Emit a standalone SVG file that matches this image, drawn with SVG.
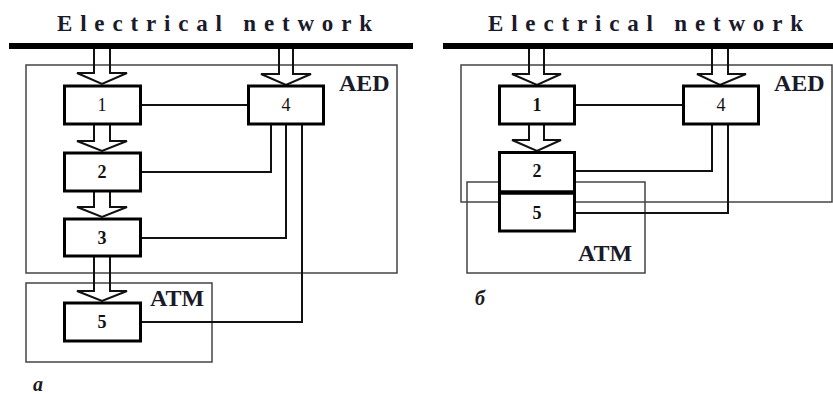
<svg xmlns="http://www.w3.org/2000/svg" width="833" height="394" viewBox="0 0 833 394">
<style>
text{font-family:"Times New Roman","Liberation Serif","DejaVu Serif",serif}
.title{font-weight:bold;font-size:23px;fill:#1a1a2a}
.lab{font-weight:bold;font-size:24px;fill:#1a1a2a}
.num{font-size:18px;fill:#111;text-anchor:middle}
.numb{font-weight:bold}
.cap{font-weight:bold;font-style:italic;font-size:20px;fill:#1a1a1a}
.bus{stroke:#000;stroke-width:6;fill:none}
.frame{fill:none;stroke:#444;stroke-width:1.5}
.box{fill:#fff;stroke:#000;stroke-width:3}
.arrow{fill:none;stroke:#111;stroke-width:2;stroke-linejoin:miter}
.conn{fill:none;stroke:#111;stroke-width:2}
</style>

<!-- Panel a -->
<g id="panel-a">
  <text class="title" font-family="Liberation Serif, serif" x="57" y="31" textLength="315" lengthAdjust="spacing">Electrical network</text>
  <line class="bus" x1="9" y1="46" x2="413" y2="46"/>
  <g id="a-AED"><rect class="frame" x="26" y="65" width="371" height="208"/><text class="lab" x="339" y="91">AED</text></g>
  <g id="a-ATM"><rect class="frame" x="26" y="283" width="186" height="79"/><text class="lab" x="150" y="306">ATM</text></g>
  <g id="a-arrows">
    <polyline class="arrow" points="94,49 94,73 77,73 102,84 127,73 110,73 110,49"/>
    <polyline class="arrow" points="279,49 279,74 261,74 286,85 311,74 293,74 293,49"/>
    <polyline class="arrow" points="94,125 94,141 77,141 102,151 127,141 110,141 110,125"/>
    <polyline class="arrow" points="94,192 94,207 77,207 102,217 127,207 110,207 110,192"/>
    <polyline class="arrow" points="94,257 94,291 77,291 102,301 127,291 110,291 110,257"/>
  </g>
  <g id="a-connectors">
    <line class="conn" x1="141" y1="105" x2="248" y2="105"/>
    <polyline class="conn" points="271,124 271,172 141,172"/>
    <polyline class="conn" points="286,124 286,238 141,238"/>
    <polyline class="conn" points="302,124 302,322 141,322"/>
  </g>
  <g id="a-node1"><rect class="box" x="64.5" y="86" width="76" height="38"/><text class="num" x="102" y="111">1</text></g>
  <g id="a-node2"><rect class="box" x="64.5" y="153" width="76" height="38"/><text class="num numb" x="102" y="178">2</text></g>
  <g id="a-node3"><rect class="box" x="64.5" y="219" width="76" height="37"/><text class="num numb" x="102" y="244">3</text></g>
  <g id="a-node4"><rect class="box" x="248.5" y="86" width="75" height="38"/><text class="num" x="286" y="111">4</text></g>
  <g id="a-node5"><rect class="box" x="64.5" y="303" width="76" height="38"/><text class="num numb" x="102" y="328">5</text></g>
  <text class="cap" x="33" y="391">a</text>
</g>

<!-- Panel b -->
<g id="panel-b">
  <text class="title" x="488" y="31" textLength="315" lengthAdjust="spacing">Electrical network</text>
  <line class="bus" x1="443" y1="46" x2="833" y2="46"/>
  <g id="b-AED"><rect class="frame" x="461" y="65" width="371" height="137"/><text class="lab" x="774" y="91">AED</text></g>
  <g id="b-ATM"><rect class="frame" x="467" y="182" width="178" height="91"/><text class="lab" x="578" y="261">ATM</text></g>
  <g id="b-arrows">
    <polyline class="arrow" points="529,49 529,74 512,74 537,85 561,74 544,74 544,49"/>
    <polyline class="arrow" points="712,49 712,74 697,74 720,85 746,74 728,74 728,49"/>
    <polyline class="arrow" points="529,125 529,140 512,140 537,151 561,140 544,140 544,125"/>
  </g>
  <g id="b-connectors">
    <line class="conn" x1="576" y1="105" x2="682" y2="105"/>
    <polyline class="conn" points="712,124 712,171 576,171"/>
    <polyline class="conn" points="728,124 728,213 576,213"/>
  </g>
  <g id="b-node1"><rect class="box" x="499.5" y="86" width="75" height="38"/><text class="num numb" x="537" y="111">1</text></g>
  <g id="b-node4"><rect class="box" x="683.5" y="86" width="75" height="38"/><text class="num" x="721" y="111">4</text></g>
  <g id="b-node2"><rect class="box" x="499.5" y="152.5" width="75" height="40"/><text class="num numb" x="537" y="177">2</text></g>
  <g id="b-node5"><rect class="box" x="499.5" y="192.5" width="75" height="38.5"/><line x1="499.5" y1="192.5" x2="574.5" y2="192.5" stroke="#000" stroke-width="4.5"/><text class="num numb" x="537" y="219">5</text></g>
  <text class="cap" x="475" y="305">б</text>
</g>
</svg>
